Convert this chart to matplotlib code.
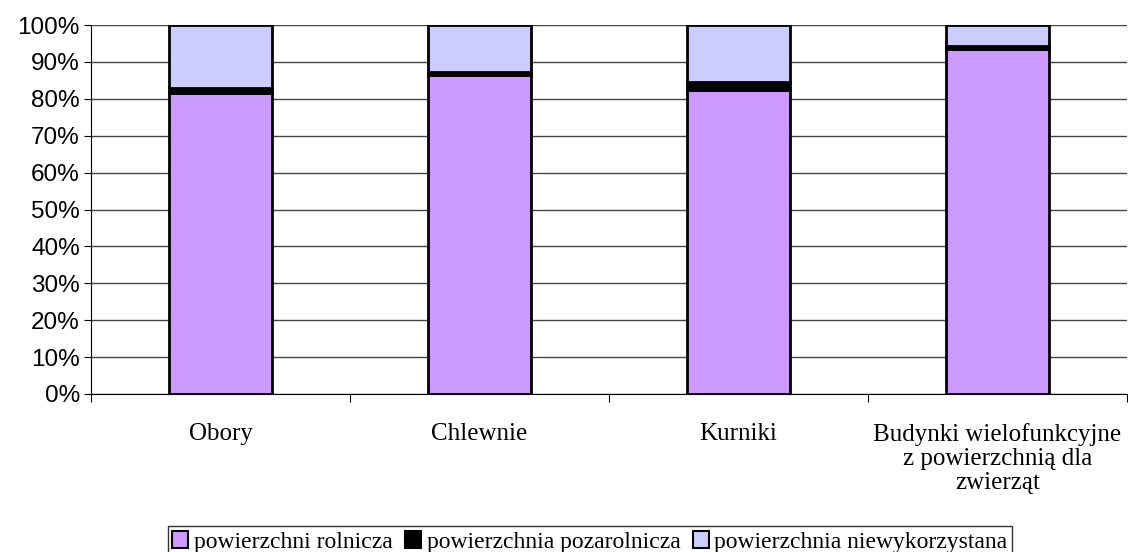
import matplotlib
matplotlib.use("Agg")
import matplotlib.pyplot as plt
from matplotlib.patches import Patch
import numpy as np

categories = ["Obory", "Chlewnie", "Kurniki",
              "Budynki wielofunkcyjne\nz powierzchnią dla\nzwierząt"]
rolnicza = [81.5, 86.5, 82.5, 93.5]
pozarolnicza = [1.5, 0.8, 2.0, 0.8]
niewykorzystana = [17.0, 12.7, 15.5, 5.7]
series_names = ["powierzchni rolnicza", "powierzchnia pozarolnicza",
                "powierzchnia niewykorzystana"]
colors = ["#cc99ff", "#000000", "#ccccff"]

fig = plt.figure(figsize=(11.28, 5.52), dpi=100)
ax = fig.add_axes([91 / 1128, 1 - 394 / 552, 1036 / 1128, 369 / 552])

x = np.arange(len(categories))
bottom = np.zeros(len(categories))
for vals, col in zip([rolnicza, pozarolnicza, niewykorzystana], colors):
    ax.bar(x, vals, width=0.4, bottom=bottom, color=col,
           edgecolor="black", linewidth=2, zorder=3)
    bottom += np.array(vals)

ax.set_xlim(-0.5, len(categories) - 0.5)
ax.set_ylim(0, 100)
ax.set_yticks(np.arange(0, 101, 10))
ax.set_yticklabels([f"{v}%" for v in range(0, 101, 10)],
                   fontfamily="Liberation Sans", fontsize=17.5)
ax.yaxis.grid(True, color="#444444", linewidth=1, zorder=0)
ax.tick_params(axis="y", length=5, direction="out", pad=3)

# category boundaries carry the x ticks, names sit in the middle
ax.set_xticks(np.arange(-0.5, len(categories)))
ax.set_xticklabels([])
ax.tick_params(axis="x", length=6, direction="out")
for i, name in enumerate(categories):
    ax.text(i, -7.8, name, ha="center", va="top", fontfamily="Liberation Serif",
            fontsize=18, linespacing=1.12)

for s in ["top", "right"]:
    ax.spines[s].set_visible(False)

handles = [Patch(facecolor=c, edgecolor="black", linewidth=1.5) for c in colors]
fig.legend(handles, series_names, loc="upper center", ncol=3,
           bbox_to_anchor=(0.523, 1 - 526 / 552), frameon=True, fancybox=False,
           edgecolor="black", handlelength=0.65, handleheight=0.75,
           handletextpad=0.25, columnspacing=0.55, borderpad=0.2,
           borderaxespad=0, prop={"family": "Liberation Serif", "size": 17})
fig.legends[0].get_frame().set_linewidth(1)

fig.savefig("out.png", dpi=100)
